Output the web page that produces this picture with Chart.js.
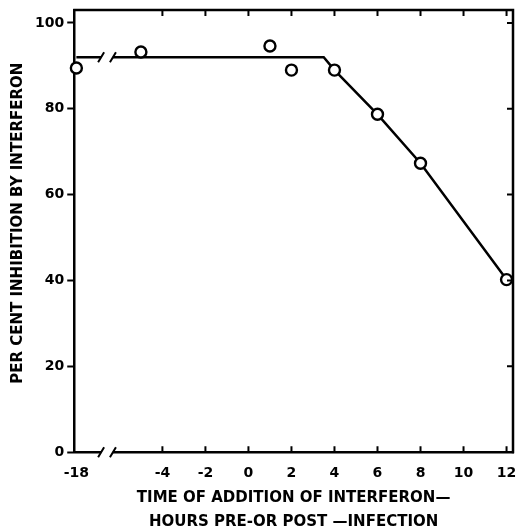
<!DOCTYPE html>
<html>
<head>
<meta charset="utf-8">
<script src="https://cdn.jsdelivr.net/npm/chart.js@4"></script>
<style>
html,body{margin:0;padding:0;background:#fff;}
#wrap{width:516px;height:531px;}
</style>
</head>
<body>
<div id="wrap"><canvas id="c"></canvas></div>
<script>
// Data
const hours = [-18, -5, 1, 2, 4, 6, 8, 12];
const inhibition = [89.5, 93.2, 94.6, 89, 89, 78.7, 67.3, 40.2];
const fitHours = [-18, 3.5, 4, 6, 8, 12];
const fitInhibition = [92, 92, 89, 78.7, 67.3, 40.2];
const xTickValues = [-18, -4, -2, 0, 2, 4, 6, 8, 10, 12];
const yTickValues = [0, 20, 40, 60, 80, 100];

// Broken x axis: the -18 h point sits just right of the axis break
const BREAK_POS = -8.0;
function axisPos(h) { return h <= -18 ? BREAK_POS : h; }
function axisLabel(v) { return Math.abs(v - BREAK_POS) < 1e-6 ? '-18' : String(v); }

const FONT = "'DejaVu Sans', sans-serif";

const framePlugin = {
  id: 'frame',
  afterDraw(chart) {
    const {ctx, chartArea: {left, right, top, bottom}, scales: {x, y}} = chart;
    ctx.save();
    ctx.strokeStyle = '#000';
    ctx.lineWidth = 2.5;
    ctx.lineCap = 'butt';
    // top & right frame
    ctx.beginPath();
    ctx.moveTo(left - 1, top);
    ctx.lineTo(right, top);
    ctx.lineTo(right, bottom + 1);
    ctx.stroke();
    // inward ticks
    ctx.lineWidth = 2;
    ctx.beginPath();
    xTickValues.forEach(v => {
      if (v <= -18) return;
      const px = x.getPixelForValue(axisPos(v));
      ctx.moveTo(px, top); ctx.lineTo(px, top + 6);
      ctx.moveTo(px, bottom); ctx.lineTo(px, bottom - 6);
    });
    yTickValues.forEach(v => {
      if (v === 0) return;
      const py = y.getPixelForValue(v);
      ctx.moveTo(right, py); ctx.lineTo(right - 6, py);
    });
    ctx.stroke();
    // axis breaks
    const g0 = x.getPixelForValue(-6.85);
    const g1 = x.getPixelForValue(-6.3);
    const lineY = y.getPixelForValue(fitInhibition[0]);
    ctx.fillStyle = '#fff';
    [bottom, lineY].forEach(yy => {
      ctx.fillRect(g0, yy - 3, g1 - g0, 6);
      ctx.beginPath();
      ctx.lineWidth = 2;
      ctx.moveTo(g0 - 3, yy + 5); ctx.lineTo(g0 + 3, yy - 5);
      ctx.moveTo(g1 - 3, yy + 5); ctx.lineTo(g1 + 3, yy - 5);
      ctx.stroke();
    });
    ctx.restore();
  }
};

new Chart(document.getElementById('c'), {
  type: 'scatter',
  data: {
    datasets: [
      {
        data: hours.map((h, i) => ({x: axisPos(h), y: inhibition[i]})),
        showLine: false,
        pointRadius: 5.5,
        pointHoverRadius: 5.5,
        pointBackgroundColor: '#fff',
        pointBorderColor: '#000',
        pointBorderWidth: 2.4,
        clip: false,
        order: 0
      },
      {
        data: fitHours.map((h, i) => ({x: axisPos(h), y: fitInhibition[i]})),
        showLine: true,
        borderColor: '#000',
        borderWidth: 2.5,
        pointRadius: 0,
        tension: 0,
        order: 1
      }
    ]
  },
  options: {
    responsive: true,
    maintainAspectRatio: false,
    animation: false,
    events: [],
    layout: {autoPadding: false, padding: {top: 10, right: 3, left: 9, bottom: -3}},
    plugins: {legend: {display: false}, tooltip: {enabled: false}},
    scales: {
      x: {
        type: 'linear',
        min: -8.1,
        max: 12.3,
        afterBuildTicks(scale) { scale.ticks = xTickValues.map(v => ({value: axisPos(v)})); },
        afterFit(scale) { scale.paddingRight = 0; scale.paddingLeft = 0; },
        grid: {display: true, drawOnChartArea: false, drawTicks: false, color: '#000'},
        border: {display: true, color: '#000', width: 2.5},
        ticks: {
          callback: v => axisLabel(v),
          color: '#000',
          font: {family: FONT, size: 14, weight: 'bold'},
          padding: 13,
          maxRotation: 0,
          autoSkip: false
        },
        title: {
          display: true,
          text: ['TIME OF ADDITION OF INTERFERON\u2014', 'HOURS PRE-OR POST \u2014INFECTION'],
          color: '#000',
          font: {family: FONT, size: 15, weight: 'bold', lineHeight: 1.6},
          padding: {top: -9, bottom: 0}
        }
      },
      y: {
        min: 0,
        max: 103,
        afterBuildTicks(scale) { scale.ticks = yTickValues.map(v => ({value: v})); },
        afterFit(scale) { scale.paddingTop = 0; scale.paddingBottom = 0; },
        grid: {display: true, drawOnChartArea: false, drawTicks: true, tickLength: 7, tickWidth: 2, color: '#000'},
        border: {display: true, color: '#000', width: 2.5},
        ticks: {
          color: '#000',
          font: {family: FONT, size: 14, weight: 'bold'},
          padding: 3
        },
        title: {
          display: true,
          text: '\u00a0\u00a0\u00a0PER CENT INHIBITION BY INTERFERON',
          color: '#000',
          font: {family: FONT, size: 15, weight: 'bold'},
          padding: {top: 0, bottom: 5}
        }
      }
    }
  },
  plugins: [framePlugin]
});
</script>
</body>
</html>
